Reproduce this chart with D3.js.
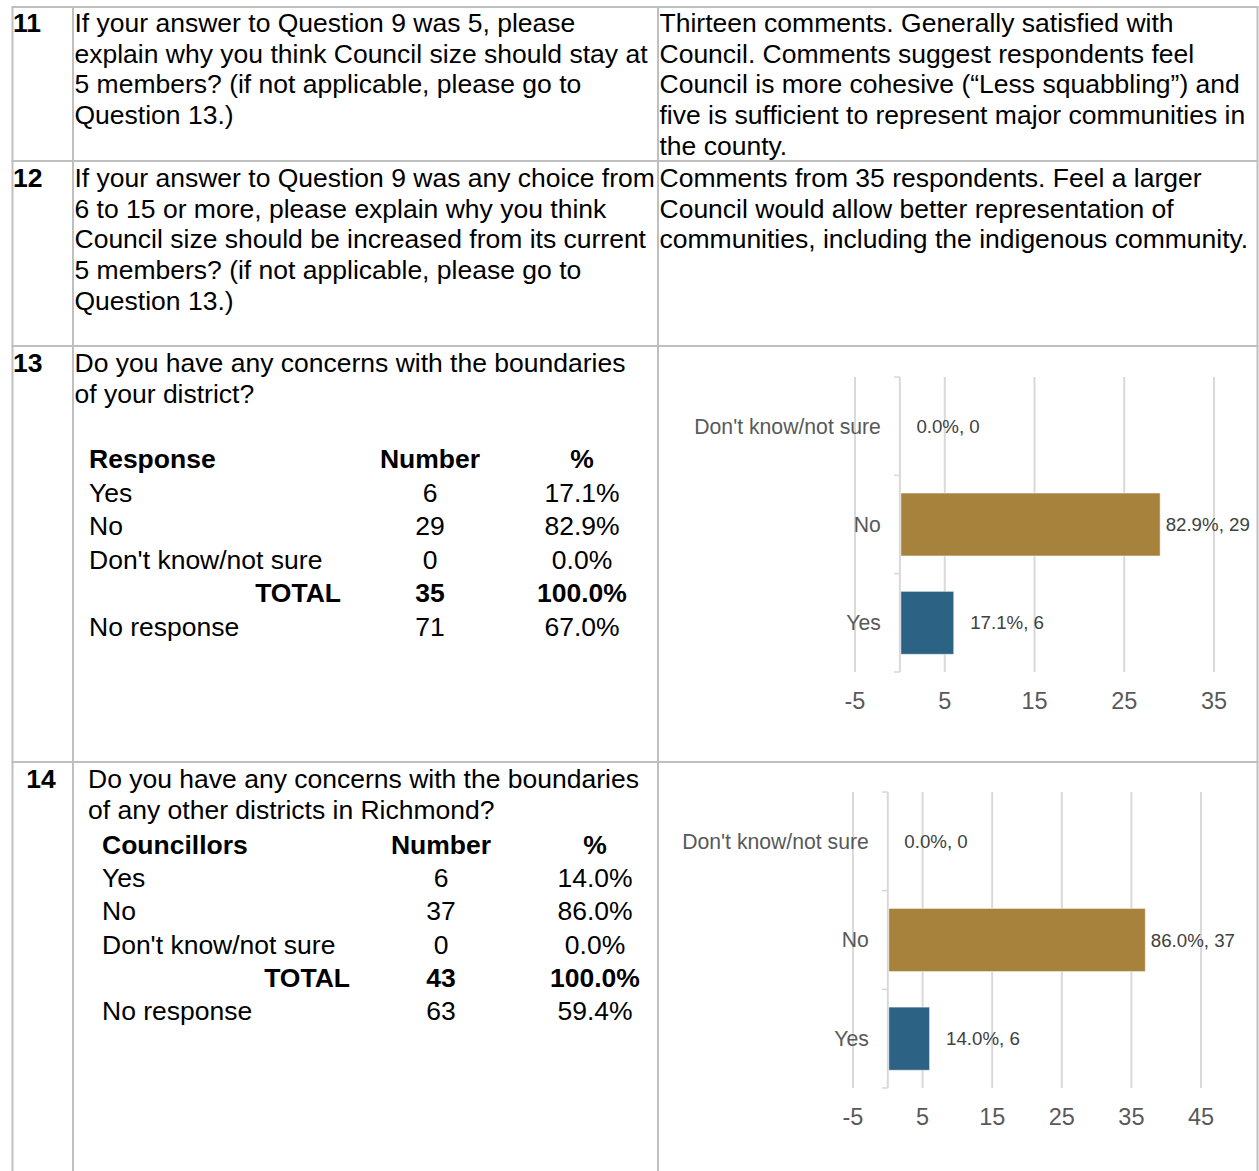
<!DOCTYPE html>
<html>
<head>
<meta charset="utf-8">
<script src="https://cdn.jsdelivr.net/npm/d3@7"></script>
<style>
  html, body { margin: 0; padding: 0; background: #fff; }
  svg { display: block; font-family: "Liberation Sans", Arial, sans-serif; }
</style>
</head>
<body>
<svg id="page" width="1259" height="1171"></svg>
<script>
"use strict";

// ---- data ----
const q11Question = [
  "If your answer to Question 9 was 5, please",
  "explain why you think Council size should stay at",
  "5 members? (if not applicable, please go to",
  "Question 13.)"
];
const q11Answer = [
  "Thirteen comments. Generally satisfied with",
  "Council. Comments suggest respondents feel",
  "Council is more cohesive (\u201cLess squabbling\u201d) and",
  "five is sufficient to represent major communities in",
  "the county."
];
const q12Question = [
  "If your answer to Question 9 was any choice from",
  "6 to 15 or more, please explain why you think",
  "Council size should be increased from its current",
  "5 members? (if not applicable, please go to",
  "Question 13.)"
];
const q12Answer = [
  "Comments from 35 respondents. Feel a larger",
  "Council would allow better representation of",
  "communities, including the indigenous community."
];
const q13Question = ["Do you have any concerns with the boundaries", "of your district?"];
const q14Question = ["Do you have any concerns with the boundaries", "of any other districts in Richmond?"];

const responses = ["Yes", "No", "Don't know/not sure"];
const q13Counts = [6, 29, 0];
const q13Pcts = ["17.1%", "82.9%", "0.0%"];
const q13Total = ["35", "100.0%"];
const q13NoResponse = ["71", "67.0%"];
const q14Counts = [6, 37, 0];
const q14Pcts = ["14.0%", "86.0%", "0.0%"];
const q14Total = ["43", "100.0%"];
const q14NoResponse = ["63", "59.4%"];

const q13Ticks = [-5, 5, 15, 25, 35];
const q14Ticks = [-5, 5, 15, 25, 35, 45];
const barColors = {"Yes": "#2c6385", "No": "#a7823c", "Don't know/not sure": "#7f7f7f"};

// ---- page ----
const svg = d3.select("#page");
const FS = 26.5, LH = 30.7, BORDER = "#bfbfbf";

function lines(x, y, arr, opts) {
  opts = opts || {};
  const t = svg.append("text")
    .attr("font-size", opts.size || FS)
    .attr("font-weight", opts.bold ? "bold" : null)
    .attr("text-anchor", opts.anchor || "start")
    .attr("fill", "#000");
  arr.forEach((s, i) => {
    t.append("tspan").attr("x", x).attr("y", y + i * (opts.lh || LH)).text(s);
  });
  return t;
}

// table grid
const colX = [12.5, 73, 658, 1257.5];
const rowY = [7, 161, 346, 762];
rowY.forEach(y => {
  svg.append("line").attr("x1", colX[0] - 1).attr("x2", colX[3] + 1)
    .attr("y1", y).attr("y2", y).attr("stroke", BORDER).attr("stroke-width", 2);
});
colX.forEach(x => {
  svg.append("line").attr("x1", x).attr("x2", x)
    .attr("y1", rowY[0]).attr("y2", 1171).attr("stroke", BORDER).attr("stroke-width", 2);
});

// question numbers
lines(13, 32, ["11"], {bold: true});
lines(13, 187, ["12"], {bold: true});
lines(13, 372, ["13"], {bold: true});
lines(41, 788, ["14"], {bold: true, anchor: "middle"});

// question / answer text
lines(74.5, 32, q11Question);
lines(659.5, 32, q11Answer);
lines(74.5, 187, q12Question);
lines(659.5, 187, q12Answer);
lines(74.5, 372, q13Question, {lh: 31});
lines(88, 788, q14Question, {lh: 31});

// small response tables
function responseTable(cfg) {
  const step = cfg.step;
  lines(cfg.x0, cfg.y0, [cfg.head], {bold: true});
  lines(cfg.xNum, cfg.y0, ["Number"], {bold: true, anchor: "middle"});
  lines(cfg.xPct, cfg.y0, ["%"], {bold: true, anchor: "middle"});
  responses.forEach((r, i) => {
    const y = cfg.y0 + (i + 1) * step;
    lines(cfg.x0, y, [r]);
    lines(cfg.xNum, y, [String(cfg.counts[i])], {anchor: "middle"});
    lines(cfg.xPct, y, [cfg.pcts[i]], {anchor: "middle"});
  });
  const yt = cfg.y0 + 4 * step;
  lines(cfg.xTotal, yt, ["TOTAL"], {bold: true, anchor: "end"});
  lines(cfg.xNum, yt, [cfg.total[0]], {bold: true, anchor: "middle"});
  lines(cfg.xPct, yt, [cfg.total[1]], {bold: true, anchor: "middle"});
  const yn = cfg.y0 + 5 * step;
  lines(cfg.x0, yn, ["No response"]);
  lines(cfg.xNum, yn, [cfg.noResp[0]], {anchor: "middle"});
  lines(cfg.xPct, yn, [cfg.noResp[1]], {anchor: "middle"});
}

responseTable({head: "Response", x0: 89, xNum: 430, xPct: 582, xTotal: 341, y0: 468, step: 33.5,
  counts: q13Counts, pcts: q13Pcts, total: q13Total, noResp: q13NoResponse});
responseTable({head: "Councillors", x0: 102, xNum: 441, xPct: 595, xTotal: 350, y0: 854, step: 33.2,
  counts: q14Counts, pcts: q14Pcts, total: q14Total, noResp: q14NoResponse});

// bar charts
function barChart(cfg) {
  const g = svg.append("g");
  const cats = responses.slice().reverse();
  const vals = cfg.counts.slice().reverse();
  const pcts = cfg.pcts.slice().reverse();
  const x = d3.scaleLinear().domain(d3.extent(cfg.ticks)).range(cfg.xRange);
  const y = d3.scaleBand().domain(cats).range(cfg.yRange).paddingInner(0.36).paddingOuter(0.18);

  // gridlines
  g.selectAll(".grid").data(cfg.ticks).join("line")
    .attr("x1", d => x(d)).attr("x2", d => x(d))
    .attr("y1", cfg.yRange[0]).attr("y2", cfg.yRange[1])
    .attr("stroke", "#d9d9d9").attr("stroke-width", 2);

  // category axis at zero
  const x0 = x(0);
  g.append("line").attr("x1", x0).attr("x2", x0)
    .attr("y1", cfg.yRange[0]).attr("y2", cfg.yRange[1])
    .attr("stroke", "#d9d9d9").attr("stroke-width", 2);
  const bounds = d3.range(cats.length + 1).map(i => cfg.yRange[0] + i * y.step());
  g.selectAll(".tk").data(bounds).join("line")
    .attr("x1", x0 - 6).attr("x2", x0).attr("y1", d => d).attr("y2", d => d)
    .attr("stroke", "#d9d9d9").attr("stroke-width", 1.5);

  // bars
  g.selectAll(".bar").data(cats).join("rect")
    .attr("x", x0 + 1).attr("y", d => y(d))
    .attr("width", (d, i) => Math.max(0, x(vals[i]) - x0 - 1))
    .attr("height", y.bandwidth())
    .attr("fill", d => barColors[d])
    .attr("stroke", "rgba(255,255,255,0.5)").attr("stroke-width", 1);

  // category labels
  g.selectAll(".cat").data(cats).join("text")
    .attr("x", x0 - 19).attr("y", d => y(d) + y.bandwidth() / 2)
    .attr("dy", "0.35em").attr("text-anchor", "end")
    .attr("font-size", 21.2).attr("fill", "#595959").text(d => d);

  // data labels
  const vmax = d3.max(vals);
  g.selectAll(".lbl").data(cats).join("text")
    .attr("x", (d, i) => x(vals[i]) + (vals[i] === vmax ? 5.5 : 16.5))
    .attr("y", d => y(d) + y.bandwidth() / 2)
    .attr("dy", "0.35em")
    .attr("font-size", 18.7).attr("fill", "#404040")
    .text((d, i) => `${pcts[i]}, ${vals[i]}`);

  // value axis labels
  g.selectAll(".xl").data(cfg.ticks).join("text")
    .attr("x", d => x(d)).attr("y", cfg.yRange[1] + 37)
    .attr("text-anchor", "middle")
    .attr("font-size", 23.5).attr("fill", "#595959").text(d => d);
}

barChart({counts: q13Counts, pcts: q13Pcts, ticks: q13Ticks, xRange: [855, 1214], yRange: [377, 672]});
barChart({counts: q14Counts, pcts: q14Pcts, ticks: q14Ticks, xRange: [853, 1201], yRange: [792, 1088]});
</script>
</body>
</html>
